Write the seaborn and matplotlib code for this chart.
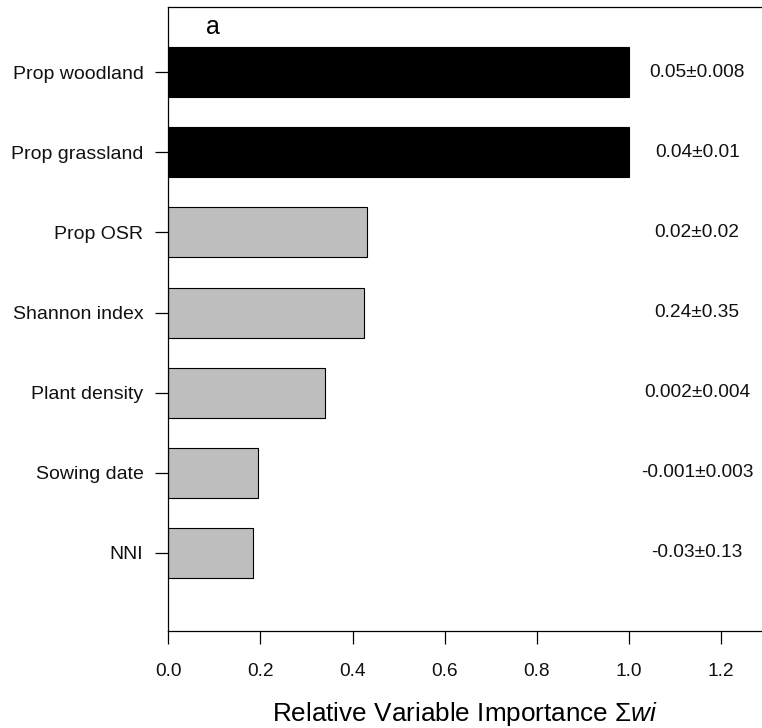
import numpy as np
import pandas as pd
import matplotlib
matplotlib.use("Agg")
import matplotlib.pyplot as plt
import seaborn as sns

sns.set_theme(style="ticks")
plt.rcParams['font.family'] = ['Liberation Sans', 'DejaVu Sans']
plt.rcParams['mathtext.fontset'] = 'custom'
plt.rcParams['mathtext.rm'] = 'Liberation Sans'
plt.rcParams['mathtext.it'] = 'Liberation Sans:italic'

# data
variables = ["Prop woodland", "Prop grassland", "Prop OSR", "Shannon index",
             "Plant density", "Sowing date", "NNI"]
importance = [1.0, 1.0, 0.432, 0.426, 0.340, 0.195, 0.184]
estimates = ["0.05\u00b10.008", "0.04\u00b10.01", "0.02\u00b10.02", "0.24\u00b10.35",
             "0.002\u00b10.004", "-0.001\u00b10.003", "-0.03\u00b10.13"]
bar_colours = ["#000000", "#000000", "#BEBEBE", "#BEBEBE", "#BEBEBE", "#BEBEBE", "#BEBEBE"]

df = pd.DataFrame({"Variable": variables, "Importance": importance})

fig = plt.figure(figsize=(7.62, 7.28), dpi=100)
ax = fig.add_axes([0.2211, 0.1337, 0.7789, 0.8563])

sns.barplot(data=df, x="Importance", y="Variable", hue="Variable",
            palette=dict(zip(variables, bar_colours)), legend=False,
            orient="h", width=0.625, saturation=1,
            edgecolor="black", linewidth=0.8, ax=ax)

# importance estimates written at the right
for i, txt in enumerate(estimates):
    ax.text(1.149, i, txt, ha="center", va="center", fontsize=13.8, color="#111111")

ax.text(0.075, 0.968, "a", transform=ax.transAxes, ha="center", va="center",
        fontsize=18, color="black")

ax.set_xlim(0, 1.29)
ax.set_ylim(6.97, -0.81)
ax.set_xticks([0.0, 0.2, 0.4, 0.6, 0.8, 1.0, 1.2])
ax.set_xticklabels(["0.0", "0.2", "0.4", "0.6", "0.8", "1.0", "1.2"])
ax.set_ylabel("")
ax.set_xlabel(r"Relative Variable Importance $\Sigma\mathit{wi}$", fontsize=18.8,
              color="black", labelpad=15)

for side in ["top", "left", "bottom"]:
    ax.spines[side].set_color("black")
    ax.spines[side].set_linewidth(0.9)
ax.spines["right"].set_visible(False)

ax.tick_params(axis="y", length=9.5, width=0.9, pad=8.5, labelsize=14, colors="black")
ax.tick_params(axis="x", length=9, width=0.9, pad=14, labelsize=13.8, colors="black")
for lab in ax.get_xticklabels() + ax.get_yticklabels():
    lab.set_color("#111111")

fig.savefig("out.png", dpi=100)
